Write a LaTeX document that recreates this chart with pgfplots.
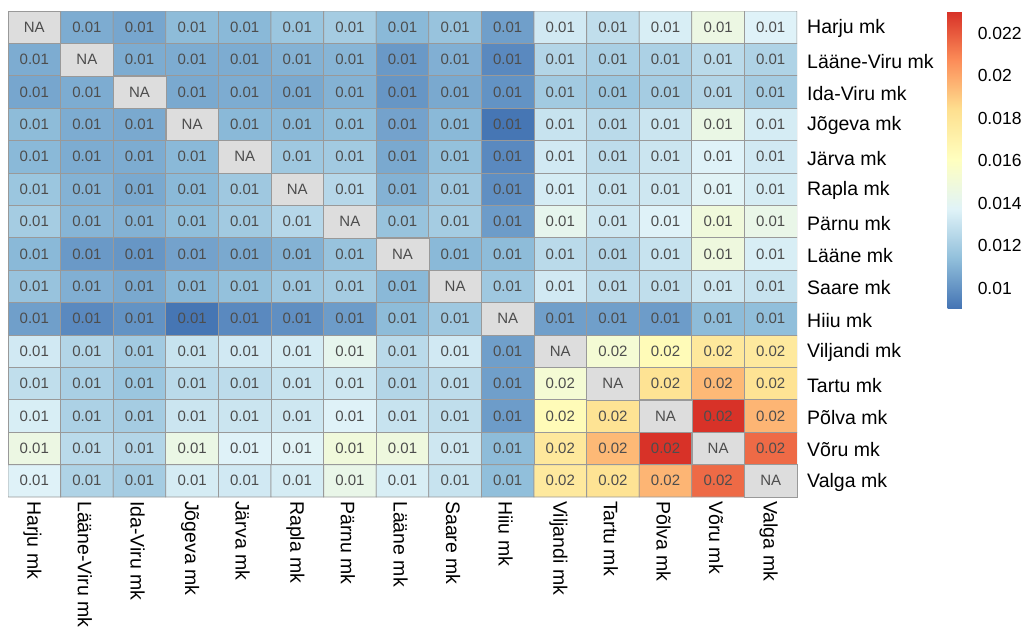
\documentclass[border=0pt]{standalone}
\usepackage{fontspec}
\setmainfont{Liberation Sans}
\usepackage{pgfplots}
\pgfplotsset{compat=1.18}
\usepackage{pgfplotstable}
\definecolor{cellborder}{RGB}{153,153,153}
\definecolor{nagray}{RGB}{221,221,221}
\definecolor{numcol}{RGB}{77,77,77}
% columns: x = column index, y = 14 - row index (row 0 = Harju), v = value, lab = printed label
\pgfplotstableread{
x y v lab
0 0 0.0137 0.01
1 0 0.0123 0.01
2 0 0.0120 0.01
3 0 0.0134 0.01
4 0 0.0133 0.01
5 0 0.0134 0.01
6 0 0.0144 0.01
7 0 0.0135 0.01
8 0 0.0130 0.01
9 0 0.0114 0.01
10 0 0.0177 0.02
11 0 0.0182 0.02
12 0 0.0196 0.02
13 0 0.0216 0.02
14 0 0.0150 NA
0 1 0.0146 0.01
1 1 0.0126 0.01
2 1 0.0124 0.01
3 1 0.0145 0.01
4 1 0.0137 0.01
5 1 0.0138 0.01
6 1 0.0149 0.01
7 1 0.0148 0.01
8 1 0.0132 0.01
9 1 0.0113 0.01
10 1 0.0178 0.02
11 1 0.0195 0.02
12 1 0.0230 0.02
13 1 0.0150 NA
14 1 0.0216 0.02
0 2 0.0135 0.01
1 2 0.0122 0.01
2 2 0.0120 0.01
3 2 0.0131 0.01
4 2 0.0131 0.01
5 2 0.0132 0.01
6 2 0.0137 0.01
7 2 0.0130 0.01
8 2 0.0128 0.01
9 2 0.0103 0.01
10 2 0.0164 0.02
11 2 0.0182 0.02
12 2 0.0150 NA
13 2 0.0230 0.02
14 2 0.0196 0.02
0 3 0.0128 0.01
1 3 0.0121 0.01
2 3 0.0117 0.01
3 3 0.0126 0.01
4 3 0.0127 0.01
5 3 0.0130 0.01
6 3 0.0132 0.01
7 3 0.0124 0.01
8 3 0.0127 0.01
9 3 0.0104 0.01
10 3 0.0152 0.02
11 3 0.0150 NA
12 3 0.0182 0.02
13 3 0.0195 0.02
14 3 0.0182 0.02
0 4 0.0133 0.01
1 4 0.0124 0.01
2 4 0.0119 0.01
3 4 0.0130 0.01
4 4 0.0133 0.01
5 4 0.0134 0.01
6 4 0.0142 0.01
7 4 0.0126 0.01
8 4 0.0133 0.01
9 4 0.0104 0.01
10 4 0.0150 NA
11 4 0.0152 0.02
12 4 0.0164 0.02
13 4 0.0178 0.02
14 4 0.0177 0.02
0 5 0.0104 0.01
1 5 0.0097 0.01
2 5 0.0100 0.01
3 5 0.0091 0.01
4 5 0.0097 0.01
5 5 0.0099 0.01
6 5 0.0103 0.01
7 5 0.0113 0.01
8 5 0.0118 0.01
9 5 0.0150 NA
10 5 0.0104 0.01
11 5 0.0104 0.01
12 5 0.0103 0.01
13 5 0.0113 0.01
14 5 0.0114 0.01
0 6 0.0116 0.01
1 6 0.0109 0.01
2 6 0.0107 0.01
3 6 0.0112 0.01
4 6 0.0115 0.01
5 6 0.0118 0.01
6 6 0.0120 0.01
7 6 0.0112 0.01
8 6 0.0150 NA
9 6 0.0118 0.01
10 6 0.0133 0.01
11 6 0.0127 0.01
12 6 0.0128 0.01
13 6 0.0132 0.01
14 6 0.0130 0.01
0 7 0.0112 0.01
1 7 0.0102 0.01
2 7 0.0101 0.01
3 7 0.0105 0.01
4 7 0.0107 0.01
5 7 0.0110 0.01
6 7 0.0116 0.01
7 7 0.0150 NA
8 7 0.0112 0.01
9 7 0.0113 0.01
10 7 0.0126 0.01
11 7 0.0124 0.01
12 7 0.0130 0.01
13 7 0.0148 0.01
14 7 0.0135 0.01
0 8 0.0120 0.01
1 8 0.0111 0.01
2 8 0.0110 0.01
3 8 0.0114 0.01
4 8 0.0119 0.01
5 8 0.0125 0.01
6 8 0.0150 NA
7 8 0.0116 0.01
8 8 0.0120 0.01
9 8 0.0103 0.01
10 8 0.0142 0.01
11 8 0.0132 0.01
12 8 0.0137 0.01
13 8 0.0149 0.01
14 8 0.0144 0.01
0 9 0.0117 0.01
1 9 0.0110 0.01
2 9 0.0107 0.01
3 9 0.0112 0.01
4 9 0.0118 0.01
5 9 0.0150 NA
6 9 0.0125 0.01
7 9 0.0110 0.01
8 9 0.0118 0.01
9 9 0.0099 0.01
10 9 0.0134 0.01
11 9 0.0130 0.01
12 9 0.0132 0.01
13 9 0.0138 0.01
14 9 0.0134 0.01
0 10 0.0112 0.01
1 10 0.0108 0.01
2 10 0.0108 0.01
3 10 0.0112 0.01
4 10 0.0150 NA
5 10 0.0118 0.01
6 10 0.0119 0.01
7 10 0.0107 0.01
8 10 0.0115 0.01
9 10 0.0097 0.01
10 10 0.0133 0.01
11 10 0.0127 0.01
12 10 0.0131 0.01
13 10 0.0137 0.01
14 10 0.0133 0.01
0 11 0.0113 0.01
1 11 0.0108 0.01
2 11 0.0107 0.01
3 11 0.0150 NA
4 11 0.0112 0.01
5 11 0.0112 0.01
6 11 0.0114 0.01
7 11 0.0105 0.01
8 11 0.0112 0.01
9 11 0.0091 0.01
10 11 0.0130 0.01
11 11 0.0126 0.01
12 11 0.0131 0.01
13 11 0.0145 0.01
14 11 0.0134 0.01
0 12 0.0106 0.01
1 12 0.0108 0.01
2 12 0.0150 NA
3 12 0.0107 0.01
4 12 0.0108 0.01
5 12 0.0107 0.01
6 12 0.0110 0.01
7 12 0.0101 0.01
8 12 0.0107 0.01
9 12 0.0100 0.01
10 12 0.0119 0.01
11 12 0.0117 0.01
12 12 0.0120 0.01
13 12 0.0124 0.01
14 12 0.0120 0.01
0 13 0.0108 0.01
1 13 0.0150 NA
2 13 0.0108 0.01
3 13 0.0108 0.01
4 13 0.0108 0.01
5 13 0.0110 0.01
6 13 0.0111 0.01
7 13 0.0102 0.01
8 13 0.0109 0.01
9 13 0.0097 0.01
10 13 0.0124 0.01
11 13 0.0121 0.01
12 13 0.0122 0.01
13 13 0.0126 0.01
14 13 0.0123 0.01
0 14 0.0150 NA
1 14 0.0108 0.01
2 14 0.0106 0.01
3 14 0.0113 0.01
4 14 0.0112 0.01
5 14 0.0117 0.01
6 14 0.0120 0.01
7 14 0.0112 0.01
8 14 0.0116 0.01
9 14 0.0104 0.01
10 14 0.0133 0.01
11 14 0.0128 0.01
12 14 0.0135 0.01
13 14 0.0146 0.01
14 14 0.0137 0.01
}\heat
\begin{document}
\begin{tikzpicture}
\path[use as bounding box] (0,0) rectangle (1027pt,627pt);
\begin{axis}[
  at={(8pt,130pt)}, anchor=south west,
  scale only axis, width=789pt, height=486pt,
  y dir=reverse,
  xmin=-0.5, xmax=14.5, ymin=-0.5, ymax=14.5,
  enlargelimits=false,
  axis line style={draw=none},
  major tick length=0pt,
  xtick={0,...,14}, ytick={0,...,14},
  xticklabels={Harju mk, Lääne-Viru mk, Ida-Viru mk, Jõgeva mk, Järva mk, Rapla mk, Pärnu mk, Lääne mk, Saare mk, Hiiu mk, Viljandi mk, Tartu mk, Põlva mk, Võru mk, Valga mk},
  yticklabels={Harju mk, Lääne-Viru mk, Ida-Viru mk, Jõgeva mk, Järva mk, Rapla mk, Pärnu mk, Lääne mk, Saare mk, Hiiu mk, Viljandi mk, Tartu mk, Põlva mk, Võru mk, Valga mk},
  yticklabel pos=right,
  xticklabel style={xshift=-2pt, yshift=-4pt, rotate=-90, anchor=west, inner sep=0pt, font=\fontsize{19.5}{21}\selectfont},
  yticklabel style={xshift=10pt, yshift=-1.5pt, anchor=west, inner sep=0pt, font=\fontsize{19.5}{21}\selectfont},
  colormap={rdylbu}{rgb255=(69,117,180) rgb255=(145,191,219) rgb255=(224,243,248) rgb255=(255,255,191) rgb255=(254,224,144) rgb255=(252,141,89) rgb255=(215,48,39)},
  point meta min=0.00907, point meta max=0.02305,
  colorbar,
  colorbar style={
    at={(parent axis.north east)}, anchor=north west, xshift=142pt,
    scale only axis, width=20pt, height=297pt,
    axis line style={draw=none},
    major tick length=0pt,
    scaled y ticks=false,
    ytick={0.01,0.012,0.014,0.016,0.018,0.02,0.022},
    yticklabels={0.01,0.012,0.014,0.016,0.018,0.02,0.022},
    yticklabel style={xshift=10pt, anchor=west, inner sep=0pt, font=\fontsize{17.5}{19}\selectfont},
  },
]
\addplot[matrix plot, mesh/cols=15, point meta=explicit, shader=faceted, faceted color=cellborder, line width=0.8pt] table[x=x, y expr=14-\thisrow{y}, meta=v] {\heat};
\addplot[only marks, mark=square*, mark size=16.2pt, mark options={xscale=1.6235, fill=nagray, draw=cellborder, line width=0.6pt}] coordinates {(0,0) (1,1) (2,2) (3,3) (4,4) (5,5) (6,6) (7,7) (8,8) (9,9) (10,10) (11,11) (12,12) (13,13) (14,14)};
\addplot[only marks, mark=none, point meta=explicit symbolic, nodes near coords, nodes near coords align=center, every node near coord/.append style={font=\fontsize{15}{15}\selectfont, text=numcol, anchor=center, inner sep=0pt}] table[x=x, y expr=14-\thisrow{y}, meta=lab] {\heat};
\end{axis}
\end{tikzpicture}
\end{document}
